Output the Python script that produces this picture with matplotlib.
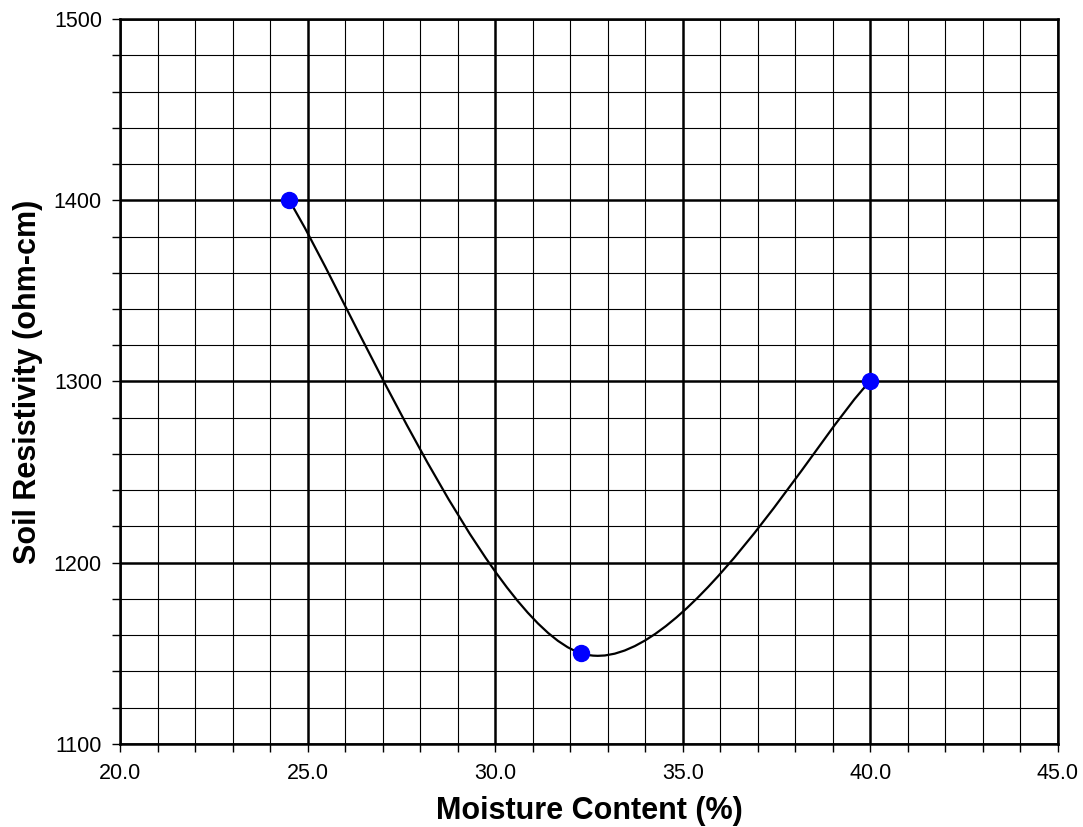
import numpy as np
import matplotlib.pyplot as plt
from matplotlib.path import Path
from matplotlib.patches import PathPatch
from matplotlib.ticker import MultipleLocator, FormatStrFormatter

plt.rcParams['font.family'] = ['Liberation Sans', 'DejaVu Sans']

# data
moisture = [24.5, 32.3, 40.0]
resistivity = [1400, 1150, 1300]

fig = plt.figure(figsize=(10.83, 8.27), dpi=100)
ax = fig.add_axes([0.1108, 0.1004, 0.866, 0.8766])

# excel-like smoothed line: cubic bezier through the points
pts = np.column_stack([moisture, resistivity]).astype(float)
verts = [tuple(pts[0])]
codes = [Path.MOVETO]
n = len(pts)
for i in range(n - 1):
    p0 = pts[max(i - 1, 0)]
    p1 = pts[i]
    p2 = pts[i + 1]
    p3 = pts[min(i + 2, n - 1)]
    c1 = p1 + (p2 - p0) / 6.0
    c2 = p2 - (p3 - p1) / 6.0
    verts += [tuple(c1), tuple(c2), tuple(p2)]
    codes += [Path.CURVE4] * 3
curve = PathPatch(Path(verts, codes), facecolor='none', edgecolor='black', lw=1.6, zorder=3)
ax.add_patch(curve)

ax.plot(moisture, resistivity, 'o', color='#0000ff', markersize=11.5, zorder=4, clip_on=False)

ax.set_xlim(20, 45)
ax.set_ylim(1100, 1500)
ax.xaxis.set_major_locator(MultipleLocator(5))
ax.xaxis.set_minor_locator(MultipleLocator(1))
ax.yaxis.set_major_locator(MultipleLocator(100))
ax.yaxis.set_minor_locator(MultipleLocator(20))
ax.xaxis.set_major_formatter(FormatStrFormatter('%.1f'))

ax.grid(which='major', color='black', lw=1.8)
ax.grid(which='minor', color='black', lw=0.8)
ax.set_axisbelow(True)

ax.tick_params(which='both', direction='out', labelsize=15.5, width=1, color='black', length=6)
ax.tick_params(axis='x', pad=8)
ax.tick_params(axis='y', pad=7)
for s in ax.spines.values():
    s.set_linewidth(1.8)

ax.set_xlabel('Moisture Content (%)', fontsize=22, fontweight='bold', labelpad=8)
ax.set_ylabel('Soil Resistivity (ohm-cm)', fontsize=22, fontweight='bold', labelpad=8)

fig.savefig('out.png', dpi=100)
